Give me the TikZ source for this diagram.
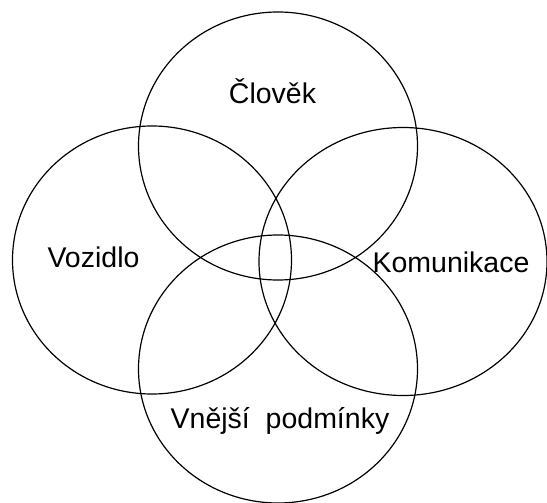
\documentclass[tikz,border=0pt]{standalone}
\usepackage{fontspec}
\setmainfont{Liberation Sans}
\usetikzlibrary{positioning}
\tikzset{
 ring/.style={draw=black,line width=1.2pt},
 lbl/.style={font=\fontsize{28.5}{34}\selectfont,anchor=base,inner sep=0pt}
}
\begin{document}
\begin{tikzpicture}[x=1pt,y=-1pt]
\useasboundingbox (0,0) rectangle (547,503);
\foreach \name/\cx/\cy/\rx in {clovek/278/146/139.5,vozidlo/152/260/139.5,komunikace/403/261.5/144,vnejsi/278/369/139.5}
 \draw[ring] (\cx,\cy) coordinate (\name) ellipse [x radius=\rx,y radius=134];
\node[lbl] (tclovek) at (272.5,103) {Člověk};
\node[lbl] (tvozidlo) at (93.5,267) {Vozidlo};
\node[lbl] (tkomunikace) at (451,272) {Komunikace};
\node[lbl] (tvnejsi) at (280,428) {Vnější\ \ podmínky};
\end{tikzpicture}
\end{document}
